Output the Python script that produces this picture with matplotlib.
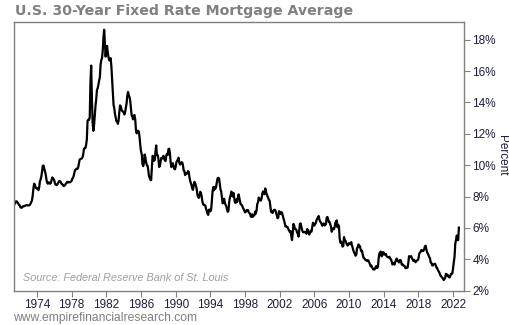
import numpy as np
import matplotlib.pyplot as plt

# monthly 30-year fixed mortgage rate (%), starting April 1971
start_year = 1971
start_month = 4

rates_1970s = [
    7.31, 7.43, 7.53, 7.60, 7.70, 7.69, 7.63, 7.55, 7.48,
    7.44, 7.32, 7.29, 7.29, 7.37, 7.37, 7.40, 7.40, 7.43, 7.45, 7.45, 7.44,
    7.44, 7.44, 7.46, 7.54, 7.65, 7.73, 8.05, 8.50, 8.82, 8.77, 8.58, 8.54,
    8.54, 8.46, 8.41, 8.58, 8.97, 9.09, 9.28, 9.59, 9.96, 9.98, 9.79, 9.62,
    9.43, 9.10, 8.89, 8.82, 8.91, 8.89, 8.82, 8.84, 9.01, 9.22, 9.18, 9.11,
    9.02, 8.81, 8.76, 8.73, 8.76, 8.85, 8.93, 9.00, 8.98, 8.92, 8.81, 8.79,
    8.72, 8.67, 8.69, 8.75, 8.83, 8.86, 8.94, 8.94, 8.90, 8.92, 8.92, 8.96,
    9.01, 9.15, 9.20, 9.36, 9.57, 9.71, 9.74, 9.78, 9.76, 9.86, 10.11, 10.35,
    10.39, 10.41, 10.43, 10.50, 10.69, 11.04, 11.09, 11.09, 11.30, 11.64, 12.83, 12.90,
]
rates_1980s = [
    12.88, 13.04, 15.28, 16.35, 14.26, 12.71, 12.19, 12.56, 13.20, 13.79, 14.21, 14.79,
    14.90, 15.13, 15.40, 15.58, 16.40, 16.70, 16.83, 17.29, 18.16, 18.63, 17.83, 16.92,
    17.40, 17.60, 17.16, 16.89, 16.68, 16.70, 16.82, 16.27, 15.43, 14.61, 13.83, 13.62,
    13.25, 13.04, 12.80, 12.78, 12.63, 12.87, 13.42, 13.81, 13.73, 13.54, 13.44, 13.42,
    13.37, 13.23, 13.39, 13.65, 13.94, 14.42, 14.67, 14.47, 14.35, 14.13, 13.64, 13.18,
    13.08, 12.92, 13.17, 13.20, 12.91, 12.22, 12.03, 12.19, 12.19, 12.14, 11.78, 11.26,
    10.88, 10.71, 10.08, 9.94, 10.14, 10.68, 10.51, 10.20, 10.01, 9.97, 9.70, 9.31,
    9.20, 9.08, 9.04, 9.83, 10.60, 10.54, 10.28, 10.33, 10.89, 11.26, 10.65, 10.65,
    10.43, 9.89, 9.93, 10.20, 10.46, 10.46, 10.43, 10.60, 10.48, 10.30, 10.27, 10.61,
    10.73, 10.65, 11.03, 11.05, 10.77, 10.20, 9.88, 9.99, 10.13, 9.95, 9.77, 9.74,
]
rates_1990s = [
    9.90, 10.20, 10.27, 10.37, 10.48, 10.16, 10.04, 10.10, 10.18, 10.18, 10.01, 9.67,
    9.64, 9.37, 9.50, 9.49, 9.47, 9.62, 9.58, 9.24, 9.01, 8.86, 8.71, 8.50,
    8.43, 8.76, 8.94, 8.85, 8.67, 8.51, 8.13, 7.98, 7.92, 8.09, 8.31, 8.22,
    7.99, 7.68, 7.50, 7.47, 7.47, 7.42, 7.21, 7.11, 6.92, 6.83, 7.16, 7.17,
    7.06, 7.15, 7.68, 8.32, 8.60, 8.40, 8.61, 8.51, 8.64, 8.93, 9.17, 9.20,
    9.15, 8.83, 8.46, 8.32, 7.96, 7.57, 7.61, 7.86, 7.64, 7.48, 7.38, 7.20,
    7.03, 7.08, 7.62, 7.93, 8.07, 8.32, 8.25, 8.00, 8.23, 7.92, 7.62, 7.60,
    7.82, 7.65, 7.90, 8.14, 7.94, 7.69, 7.50, 7.48, 7.43, 7.29, 7.21, 7.10,
    6.99, 7.04, 7.13, 7.14, 7.14, 7.00, 6.95, 6.92, 6.72, 6.71, 6.87, 6.72,
    6.79, 6.81, 7.04, 6.92, 7.15, 7.55, 7.63, 7.94, 7.82, 7.85, 7.74, 7.91,
]
rates_2000s = [
    8.21, 8.33, 8.24, 8.15, 8.52, 8.29, 8.15, 8.03, 7.91, 7.80, 7.75, 7.38,
    7.03, 7.05, 6.95, 7.08, 7.15, 7.16, 7.13, 6.95, 6.82, 6.62, 6.66, 7.07,
    7.00, 6.89, 7.01, 6.99, 6.81, 6.65, 6.49, 6.29, 6.09, 6.11, 6.07, 6.05,
    5.92, 5.84, 5.75, 5.81, 5.48, 5.23, 5.63, 6.26, 6.15, 5.95, 5.93, 5.88,
    5.71, 5.64, 5.45, 5.83, 6.27, 6.29, 6.06, 5.87, 5.75, 5.72, 5.73, 5.75,
    5.71, 5.63, 5.93, 5.86, 5.72, 5.58, 5.70, 5.82, 5.77, 6.07, 6.33, 6.27,
    6.15, 6.25, 6.32, 6.51, 6.60, 6.68, 6.76, 6.52, 6.40, 6.36, 6.24, 6.14,
    6.22, 6.29, 6.16, 6.18, 6.26, 6.66, 6.70, 6.57, 6.38, 6.38, 6.21, 6.10,
    5.76, 5.92, 5.97, 5.92, 6.04, 6.32, 6.43, 6.48, 6.04, 6.20, 6.09, 5.33,
    5.06, 5.13, 5.00, 4.81, 4.86, 5.42, 5.22, 5.19, 5.06, 4.95, 4.88, 4.93,
]
rates_2010s = [
    5.03, 4.99, 4.97, 5.10, 4.89, 4.74, 4.56, 4.43, 4.35, 4.23, 4.30, 4.71,
    4.76, 4.95, 4.84, 4.84, 4.64, 4.51, 4.55, 4.27, 4.11, 4.07, 3.99, 3.96,
    3.92, 3.89, 3.95, 3.91, 3.80, 3.68, 3.55, 3.60, 3.50, 3.38, 3.35, 3.35,
    3.41, 3.53, 3.57, 3.45, 3.54, 4.07, 4.37, 4.46, 4.49, 4.19, 4.26, 4.46,
    4.43, 4.30, 4.34, 4.34, 4.19, 4.16, 4.13, 4.12, 4.16, 4.04, 4.00, 3.86,
    3.67, 3.71, 3.77, 3.67, 3.84, 3.98, 4.05, 3.91, 3.89, 3.80, 3.94, 3.96,
    3.87, 3.66, 3.69, 3.61, 3.60, 3.57, 3.44, 3.44, 3.46, 3.47, 3.77, 4.20,
    4.15, 4.17, 4.20, 4.05, 4.01, 3.90, 3.97, 3.88, 3.81, 3.90, 3.92, 3.95,
    4.03, 4.33, 4.44, 4.47, 4.59, 4.57, 4.53, 4.55, 4.63, 4.83, 4.87, 4.64,
    4.46, 4.37, 4.27, 4.14, 4.07, 3.80, 3.77, 3.62, 3.61, 3.69, 3.70, 3.72,
]
rates_2020s = [
    3.62, 3.47, 3.45, 3.31, 3.23, 3.16, 3.02, 2.94, 2.89, 2.83, 2.77, 2.68,
    2.74, 2.81, 3.08, 3.06, 2.96, 2.98, 2.87, 2.84, 2.90, 3.07, 3.07, 3.10,
    3.45, 3.76, 4.17, 4.98, 5.23, 5.52, 5.41, 5.22, 6.02,
]

year_ticks = list(range(1974, 2023, 4))
pct_ticks = list(range(2, 19, 2))

rates = np.array(rates_1970s + rates_1980s + rates_1990s + rates_2000s + rates_2010s + rates_2020s)
dates = start_year + (start_month - 1) / 12 + np.arange(len(rates)) / 12

grey = '#808080'
label_col = '#1e1e3c'

fig = plt.figure(figsize=(5.1, 3.25), dpi=100)
ax = fig.add_axes([0.0275, 0.1055, 0.8825, 0.8255])

ax.plot(dates, rates, color='black', lw=1.6)

ax.set_xlim(1971.35, 2023.27)
ax.set_ylim(2, 19.1)
ax.set_xticks(year_ticks)
ax.set_xticklabels([str(y) for y in year_ticks])
ax.set_yticks(pct_ticks)
ax.set_yticklabels([f'{p}%' for p in pct_ticks])

ax.yaxis.tick_right()
ax.tick_params(axis='both', direction='out', length=4, width=0.8, color=grey,
               labelsize=8.5, labelcolor=label_col, pad=2)
for s in ax.spines.values():
    s.set_color(grey)
    s.set_linewidth(1)

for lab in ax.get_xticklabels() + ax.get_yticklabels():
    lab.set_family('Liberation Sans')

fig.text(0.984, 0.523, 'Percent', rotation=-90, fontsize=8.5, color=label_col,
         family='Liberation Sans', ha='center', va='center')

ax.text(0.02, 0.035, 'Source: Federal Reserve Bank of St. Louis', transform=ax.transAxes,
        fontsize=7.8, style='italic', color='#a0a0a0', family='Liberation Sans')

fig.text(0.03, 0.965, 'U.S. 30-Year Fixed Rate Mortgage Average', fontsize=10.2,
         fontweight='bold', color=grey, va='center', ha='left')
fig.text(0.025, 0.022, 'www.empirefinancialresearch.com', fontsize=8.7, color=grey,
         va='center', ha='left', family='Liberation Sans')

fig.savefig('out.png', dpi=100)
